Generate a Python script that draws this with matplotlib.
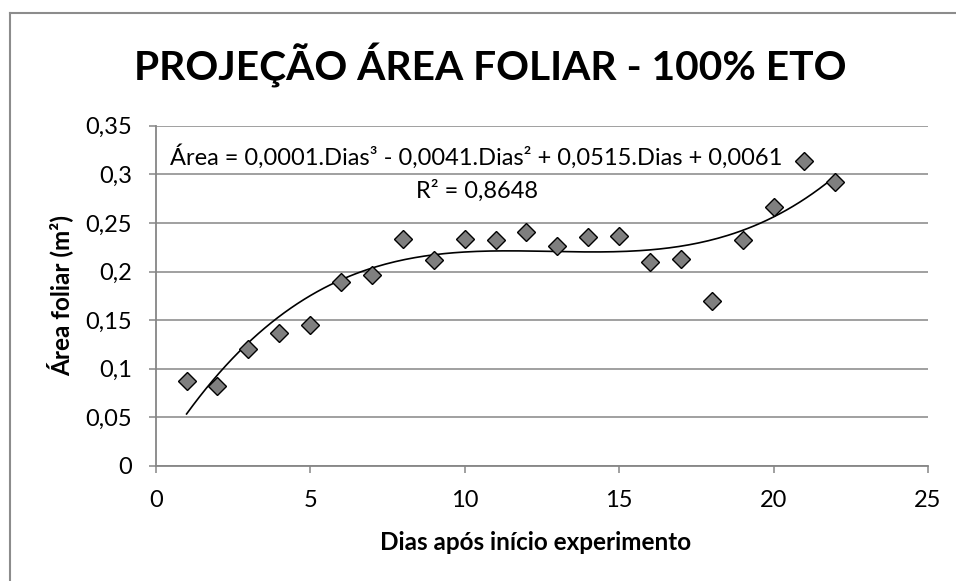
import numpy as np
import matplotlib
matplotlib.use("Agg")
import matplotlib.pyplot as plt
from matplotlib.ticker import FuncFormatter, MultipleLocator
from matplotlib.lines import Line2D

plt.rcParams['font.family'] = ['Lato', 'DejaVu Sans']

dias = [1, 2, 3, 4, 5, 6, 7, 8, 9, 10, 11, 12, 13, 14, 15, 16, 17, 18, 19, 20, 21, 22]
area = [0.087, 0.082, 0.120, 0.137, 0.145, 0.189, 0.196, 0.233, 0.212, 0.233, 0.232,
        0.241, 0.226, 0.236, 0.237, 0.210, 0.213, 0.170, 0.232, 0.266, 0.314, 0.292]

title = "PROJEÇÃO ÁREA FOLIAR - 100% ETO"
xlabel = "Dias após início experimento"
ylabel = "Área foliar (m²)"
eq_text = "Área = 0,0001.Dias³ - 0,0041.Dias² + 0,0515.Dias + 0,0061"
r2_text = "R² = 0,8648"

W, H = 956, 581
fig = plt.figure(figsize=(W / 100, H / 100), dpi=100)
fig.patch.set_facecolor('white')

x0, x1, y0, y1 = 155.7, 928, 125.7, 466
ax = fig.add_axes([x0 / W, 1 - y1 / H, (x1 - x0) / W, (y1 - y0) / H])

grid_c = '#868686'
ax.set_xlim(0, 25)
ax.set_ylim(0, 0.35)
ax.xaxis.set_major_locator(MultipleLocator(5))
ax.yaxis.set_major_locator(MultipleLocator(0.05))
fmt = FuncFormatter(lambda v, p: f"{round(v, 4):g}".replace('.', ','))
ax.xaxis.set_major_formatter(fmt)
ax.yaxis.set_major_formatter(fmt)
ax.grid(axis='y', color=grid_c, lw=1.1)
ax.set_axisbelow(True)
for s in ['top', 'right']:
    ax.spines[s].set_visible(False)
for s in ['left', 'bottom']:
    ax.spines[s].set_color(grid_c)
    ax.spines[s].set_linewidth(1.3)
ax.tick_params(axis='both', direction='out', length=5, width=1.1, color=grid_c,
               labelsize=17, labelcolor='black')
ax.tick_params(axis='y', pad=12)
ax.tick_params(axis='x', pad=12)

# trendline (cubic least-squares fit, as Excel does)
coef = np.polyfit(dias, area, 3)
xs = np.linspace(min(dias), max(dias), 200)
ax.plot(xs, np.polyval(coef, xs), color='black', lw=1.2, zorder=3)

ax.plot(dias, area, linestyle='none', marker='D', ms=9.5, mfc='#7f7f7f',
        mec='black', mew=1.0, zorder=4, clip_on=False)

fig.text(490 / W, 1 - 80 / H, title, ha='center', va='baseline',
         fontsize=29.3, fontweight='bold')
fig.text(536 / W, 1 - 550 / H, xlabel, ha='center', va='baseline',
         fontsize=17.5, fontweight='bold')
fig.text(60 / W, 1 - 296 / H, ylabel, ha='center', va='center', rotation=90,
         fontsize=17.5, fontweight='bold')
fig.text(476.5 / W, 1 - 165 / H, eq_text, ha='center', va='baseline', fontsize=17)
fig.text(476.5 / W, 1 - 198 / H, r2_text, ha='center', va='baseline', fontsize=17)

# chart-area border (left and top edges visible)
border = '#8c8c8c'
fig.add_artist(Line2D([10 / W, 10 / W], [0, 1 - 13 / H], color=border, lw=1.5,
                      transform=fig.transFigure))
fig.add_artist(Line2D([10 / W, 1], [1 - 13 / H, 1 - 13 / H], color=border, lw=1.5,
                      transform=fig.transFigure))

fig.savefig('out.png', dpi=100)
